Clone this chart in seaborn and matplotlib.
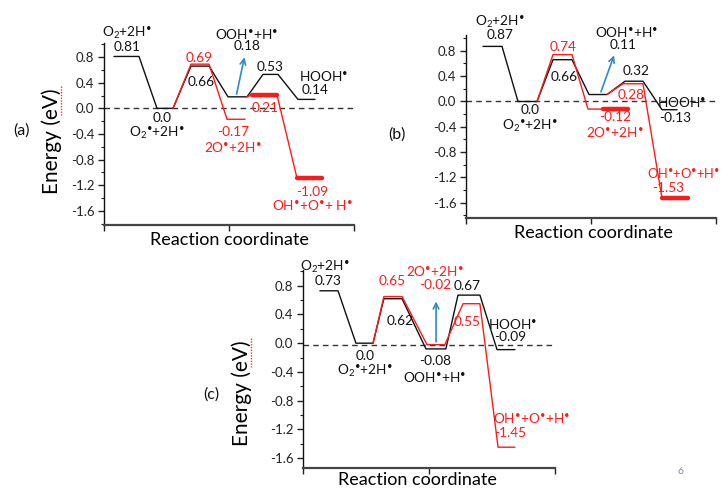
import matplotlib
matplotlib.use("Agg")
import matplotlib.pyplot as plt
import numpy as np
import pandas as pd
import seaborn as sns
from matplotlib.lines import Line2D
from matplotlib.ticker import MultipleLocator

# ---------------- energies (eV) ----------------
# black: O2 -> O2* -> TS -> OOH*+H* -> TS -> HOOH*
a_black = [0.81, 0.0, 0.66, 0.18, 0.53, 0.14]
a_red_diss = [0.0, 0.69, -0.17]        # O2* -> TS -> 2O*+2H*
a_red_ooh = [0.18, 0.21, -1.09]        # OOH*+H* -> TS -> OH*+O*+H*
a_arrow = [0.18, 0.84]

b_black = [0.87, 0.0, 0.66, 0.11, 0.32, -0.13]
b_red_diss = [0.0, 0.74, -0.12]
b_red_ooh = [0.11, 0.28, -1.53]
b_arrow = [0.11, 0.77]

c_black = [0.73, 0.0, 0.62, -0.08, 0.67, -0.09]
c_red = [0.0, 0.65, -0.02, 0.55, -1.45]
c_arrow = [-0.02, 0.62]
c_ref = -0.02

y_ticks = [-1.6, -1.2, -0.8, -0.4, 0.0, 0.4, 0.8]

DOT = "$^{\u2022}$"
S_O2 = "O$_2$+2H" + DOT
S_O2ads = "O$_2$" + DOT + "+2H" + DOT
S_OOH = "OOH" + DOT + "+H" + DOT
S_HOOH = "HOOH" + DOT
S_2O = "2O" + DOT + "+2H" + DOT
S_OHO = "OH" + DOT + "+O" + DOT + "+H" + DOT
S_OHO_a = "OH" + DOT + "+O" + DOT + "+ H" + DOT

# ---------------- layout: level extents along the reaction coordinate ----------------
a_black_x = [(0.40, 1.40), (2.12, 2.76), (3.48, 4.20), (4.96, 5.72), (6.36, 6.96), (7.76, 8.44)]
a_red_diss_x = [(2.76, 2.76), (3.48, 4.20), (4.92, 5.64)]
a_red_ooh_x = [(5.72, 5.72), (5.92, 6.92), (7.72, 8.72)]
a_red_thick = [None, (5.92, 6.92), (7.72, 8.72)]
a_arrow_x = [5.28, 5.64]

b_black_x = [(0.68, 1.44), (2.08, 2.84), (3.48, 4.24), (4.92, 5.64), (6.36, 7.08), (7.84, 8.44)]
b_red_diss_x = [(2.84, 2.84), (3.48, 4.24), (4.88, 6.48)]
b_red_ooh_x = [(5.64, 5.64), (6.28, 7.08), (7.84, 8.88)]
b_red_thick = [None, None, (5.48, 6.48)]
b_red_ooh_thick = [None, None, (7.84, 8.88)]
b_arrow_x = [5.36, 5.96]

c_black_x = [(0.67, 1.39), (2.10, 2.78), (3.21, 3.93), (4.88, 5.67), (6.15, 7.02), (7.70, 8.41)]
c_red_x = [(2.78, 2.78), (3.21, 3.93), (4.92, 5.63), (6.35, 7.02), (7.74, 8.41)]
c_arrow_x = [5.28, 5.28]

W, H = 723, 491
RED = "#ff1a1a"
BLUE = "#2b8ccc"

sns.set_theme(style="ticks")
plt.rcParams["font.family"] = ["Lato", "DejaVu Sans"]
plt.rcParams["mathtext.fontset"] = "custom"
plt.rcParams["mathtext.rm"] = "Lato"
plt.rcParams["mathtext.it"] = "Lato"
plt.rcParams["mathtext.bf"] = "Lato:bold"

fig = plt.figure(figsize=(W / 100, H / 100), dpi=100)


def make_ax(l, t, r, b, ylim):
    ax = fig.add_axes([l / W, 1 - b / H, (r - l) / W, (b - t) / H])
    ax.set_facecolor("none")
    for s in ("top", "right"):
        ax.spines[s].set_visible(False)
    ax.spines["left"].set_color("#111111")
    ax.spines["left"].set_linewidth(1.0)
    ax.spines["bottom"].set_color("#444444")
    ax.spines["bottom"].set_linewidth(1.6)
    ax.grid(False)
    ax._ylim = ylim
    return ax


def finish_ax(ax):
    ax.set_xlim(0, 10)
    ax.set_ylim(*ax._ylim)
    ax.set_yticks(y_ticks)
    ax.set_yticklabels([f"{v:.1f}" for v in y_ticks])
    ax.yaxis.set_minor_locator(MultipleLocator(0.2))
    ax.set_xticks([0, 5, 10])
    ax.set_xticklabels([])
    ax.tick_params(axis="both", which="major", direction="out", length=4, width=1,
                   color="#222222", labelsize=9.5, labelcolor="#222222", pad=3)
    ax.tick_params(axis="y", which="minor", direction="out", length=2.5, width=0.8,
                   color="#222222")
    ax.set_xlabel("")
    ax.set_ylabel("")


def level_path(ax, extents, energies, color, lw=1.0):
    xs, ys = [], []
    for (x0, x1), e in zip(extents, energies):
        xs += [x0, x1]
        ys += [e, e]
    df = pd.DataFrame({"x": xs, "y": ys})
    sns.lineplot(data=df, x="x", y="y", sort=False, estimator=None, color=color,
                 linewidth=lw, ax=ax, legend=False)


def thick(ax, spans, energies, color=RED, lw=3.2):
    for sp, e in zip(spans, energies):
        if sp is None:
            continue
        df = pd.DataFrame({"x": list(sp), "y": [e, e]})
        sns.lineplot(data=df, x="x", y="y", sort=False, estimator=None, color=color,
                     linewidth=lw, ax=ax, legend=False)


def arrow(ax, xs, es):
    ax.annotate("", xy=(xs[1], es[1]), xytext=(xs[0], es[0]),
                arrowprops=dict(arrowstyle="->", color=BLUE, lw=1.2, mutation_scale=10))


def val(e):
    return "0.0" if e == 0 else f"{e:.2f}"


def put(ax, x, y, s, color="#111111", ha="center", size=9.8):
    ax.text(x, y, s, color=color, ha=ha, va="center", fontsize=size, clip_on=False)


def zero_line(ax, y=0.0):
    ax.axhline(y, color="#333333", lw=1.0, ls=(0, (4, 3)), zorder=0.5)


# ---------------- panel (a) ----------------
ax = make_ax(104, 43, 354, 225, (-1.82, 1.02))
zero_line(ax)
level_path(ax, a_black_x, a_black, "#111111")
level_path(ax, a_red_diss_x, a_red_diss, RED)
level_path(ax, a_red_ooh_x, a_red_ooh, RED)
thick(ax, a_red_thick, a_red_ooh)
arrow(ax, a_arrow_x, a_arrow)
finish_ax(ax)
put(ax, 0.92, 1.17, S_O2)
put(ax, 0.92, 0.96, val(a_black[0]))
put(ax, 2.32, -0.15, val(a_black[1]))
put(ax, 2.12, -0.38, S_O2ads)
put(ax, 3.80, 0.78, val(a_red_diss[1]), RED)
put(ax, 3.88, 0.41, val(a_black[2]))
put(ax, 5.72, 1.16, S_OOH)
put(ax, 5.72, 0.97, val(a_black[3]))
put(ax, 6.64, 0.64, val(a_black[4]))
put(ax, 8.80, 0.50, S_HOOH)
put(ax, 8.44, 0.29, val(a_black[5]))
put(ax, 6.44, 0.01, val(a_red_ooh[1]), RED)
put(ax, 5.16, -0.37, val(a_red_diss[2]), RED)
put(ax, 5.16, -0.60, S_2O, RED)
put(ax, 8.32, -1.30, val(a_red_ooh[2]), RED)
put(ax, 8.32, -1.51, S_OHO_a, RED)

# ---------------- panel (b) ----------------
ax = make_ax(466, 35, 716, 218, (-1.84, 1.05))
zero_line(ax)
level_path(ax, b_black_x, b_black, "#111111")
level_path(ax, b_red_diss_x, b_red_diss, RED)
thick(ax, b_red_thick, b_red_diss)
level_path(ax, b_red_ooh_x, b_red_ooh, RED)
thick(ax, b_red_ooh_thick, b_red_ooh)
arrow(ax, b_arrow_x, b_arrow)
finish_ax(ax)
put(ax, 1.36, 1.26, S_O2)
put(ax, 1.36, 1.05, val(b_black[0]))
put(ax, 2.56, -0.13, val(b_black[1]))
put(ax, 2.56, -0.38, S_O2ads)
put(ax, 3.88, 0.86, val(b_red_diss[1]), RED)
put(ax, 3.92, 0.39, val(b_black[2]))
put(ax, 6.44, 1.10, S_OOH)
put(ax, 6.28, 0.89, val(b_black[3]))
put(ax, 6.80, 0.48, val(b_black[4]))
put(ax, 6.60, 0.10, val(b_red_ooh[1]), RED)
put(ax, 8.64, -0.01, S_HOOH)
put(ax, 8.36, -0.26, val(b_black[5]))
put(ax, 5.96, -0.24, val(b_red_diss[2]), RED)
put(ax, 5.96, -0.48, S_2O, RED)
put(ax, 10.18, -1.13, S_OHO, RED, ha="right", size=9.3)
put(ax, 8.08, -1.36, val(b_red_ooh[2]), RED)

# ---------------- panel (c) ----------------
ax = make_ax(303, 270, 555, 468, (-1.74, 1.02))
zero_line(ax, c_ref)
level_path(ax, c_black_x, c_black, "#111111")
level_path(ax, c_red_x, c_red, RED)
arrow(ax, c_arrow_x, c_arrow)
finish_ax(ax)
put(ax, 0.87, 1.06, S_O2)
put(ax, 1.00, 0.86, val(c_black[0]))
put(ax, 3.53, 0.86, val(c_red[1]), RED)
put(ax, 3.85, 0.31, val(c_black[2]))
put(ax, 5.24, 1.00, S_2O, RED)
put(ax, 5.24, 0.81, val(c_red[2]), RED)
put(ax, 6.51, 0.80, val(c_black[4]))
put(ax, 6.51, 0.30, val(c_red[3]), RED)
put(ax, 8.33, 0.27, S_HOOH)
put(ax, 8.21, 0.08, val(c_black[5]))
put(ax, 2.46, -0.18, val(c_black[1]))
put(ax, 2.46, -0.39, S_O2ads)
put(ax, 5.24, -0.25, val(c_black[3]))
put(ax, 5.24, -0.47, S_OOH)
put(ax, 7.54, -1.04, S_OHO, RED, ha="left")
put(ax, 8.21, -1.25, val(c_red[4]), RED)

# ---------------- figure-level annotations ----------------
def ftext(px, py, s, **kw):
    fig.text(px / W, 1 - py / H, s, **kw)


ftext(52, 141, "Energy (eV)", rotation=90, ha="center", va="center", fontsize=15, color="#000000")
ftext(242, 393, "Energy (eV)", rotation=90, ha="center", va="center", fontsize=15, color="#000000")
for px, (y0, y1) in ((61, (86, 115)), (251, (338, 367))):
    fig.add_artist(Line2D([px / W, px / W], [1 - y0 / H, 1 - y1 / H], color="#e23b3b",
                          lw=1.0, ls=(0, (1, 1))))
ftext(229, 240, "Reaction coordinate", ha="center", va="center", fontsize=13, color="#000000")
ftext(593, 233, "Reaction coordinate", ha="center", va="center", fontsize=13, color="#000000")
ftext(417, 480, "Reaction coordinate", ha="center", va="center", fontsize=13, color="#000000")
ftext(21, 131, "(a)", ha="center", va="center", fontsize=11.5, color="#111111")
ftext(397, 135, "(b)", ha="center", va="center", fontsize=11.5, color="#111111")
ftext(211, 395, "(c)", ha="center", va="center", fontsize=11.5, color="#111111")
ftext(680, 471, "6", ha="center", va="center", fontsize=7.5, color="#7a8aa0")

fig.savefig("out.png", dpi=100)
